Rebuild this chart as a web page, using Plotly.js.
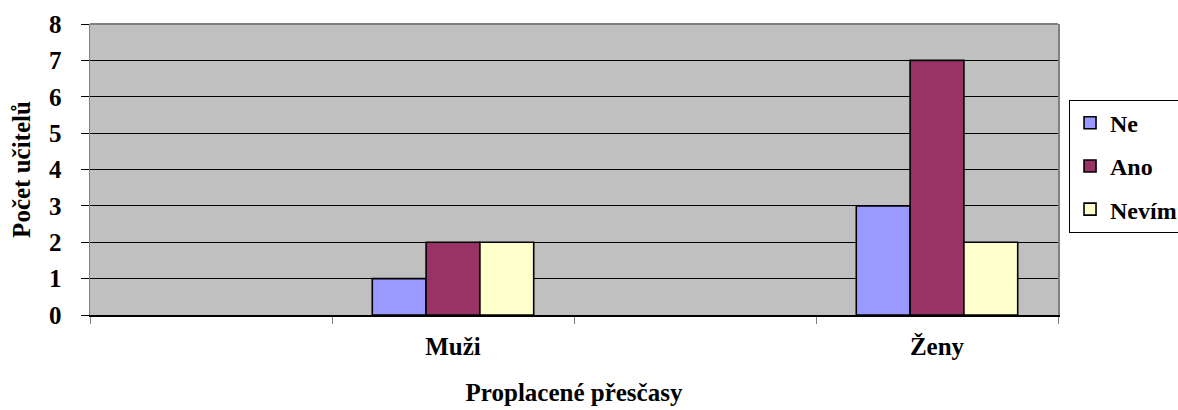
<!DOCTYPE html>
<html>
<head>
<meta charset="utf-8">
<script src="https://cdn.plot.ly/plotly-3.0.1.min.js"></script>
<style>html,body{margin:0;padding:0;background:#fff;}#chart{width:1178px;height:410px;}</style>
</head>
<body>
<div id="chart"></div>
<script>
const axisSlots = [" ", "Muži", "  ", "Ženy"];
const categories = ["Muži", "Ženy"];
const seriesNames = ["Ne", "Ano", "Nevím"];
const ne = [1, 3];
const ano = [2, 7];
const nevim = [2, 2];
const seriesColors = ["#9999FF", "#993366", "#FFFFCC"];
const yTicks = [0, 1, 2, 3, 4, 5, 6, 7, 8];

const FONT = "Liberation Serif";
const values = [ne, ano, nevim];
const traces = seriesNames.map((name, i) => ({
  type: "bar",
  name: name,
  x: categories,
  y: values[i],
  legendgroup: "g" + i,
  marker: {color: seriesColors[i], line: {color: "#000", width: 1.6}},
  hoverinfo: "skip"
}));

const layout = {
  width: 1178, height: 410,
  margin: {l: 90, r: 120, t: 24, b: 95, autoexpand: false},
  paper_bgcolor: "#fff",
  plot_bgcolor: "#C0C0C0",
  barmode: "group",
  bargap: 0.333,
  bargroupgap: 0,
  font: {family: FONT, size: 25, color: "#000", weight: "bold"},
  showlegend: true,
  legend: {
    x: 1.0114, xanchor: "left", y: 0.74, yanchor: "top",
    bgcolor: "#fff", bordercolor: "#000", borderwidth: 1,
    font: {family: FONT, size: 24, color: "#000", weight: "bold"},
    tracegroupgap: 9, itemwidth: 30
  },
  xaxis: {
    type: "category",
    categoryorder: "array", categoryarray: axisSlots,
    range: [-0.5, 3.5],
    tickson: "boundaries",
    ticks: "outside", ticklen: 7, tickcolor: "#808080", tickwidth: 1,
    showgrid: false,
    showline: true, linecolor: "#000", linewidth: 1.5,
    tickfont: {family: FONT, size: 25, color: "#000", weight: "bold"},
    ticklabelstandoff: 8,
    title: {text: "Proplacené přesčasy", font: {family: FONT, size: 25, color: "#000", weight: "bold"}},
    automargin: false, fixedrange: true
  },
  yaxis: {
    range: [0, 8],
    tickvals: yTicks,
    ticks: "outside", ticklen: 8, tickcolor: "#000", tickwidth: 1,
    showgrid: true, gridcolor: "#000", gridwidth: 1,
    zeroline: false,
    showline: true, linecolor: "#808080", linewidth: 1.5, mirror: true,
    tickfont: {family: FONT, size: 25, color: "#000", weight: "bold"},
    ticklabelstandoff: 14,
    title: {text: "Počet učitelů", font: {family: FONT, size: 25, color: "#000", weight: "bold"}},
    automargin: false, fixedrange: true
  },
  shapes: [
    {type: "line", xref: "paper", yref: "paper", x0: 0, x1: 1, y0: 1, y1: 1, line: {color: "#808080", width: 2}}
  ]
};

Plotly.newPlot("chart", traces, layout, {staticPlot: true, displayModeBar: false});
</script>
</body>
</html>
